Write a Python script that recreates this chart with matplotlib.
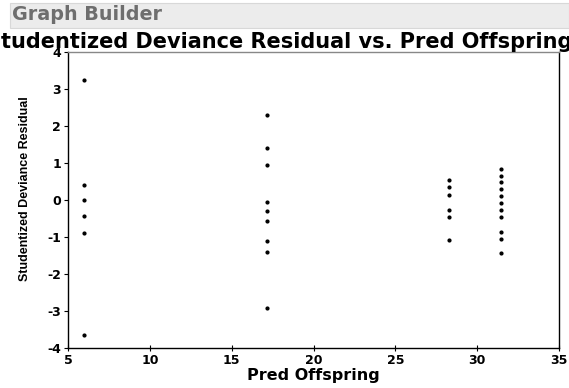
import matplotlib
matplotlib.use("Agg")
import matplotlib.pyplot as plt
from matplotlib.patches import Rectangle

plt.rcParams['font.family'] = ['Liberation Sans', 'DejaVu Sans']

# Data
x_groups = [6.0, 17.15, 28.3, 31.45]
res_g1 = [3.24, 0.41, 0.0, -0.43, -0.89, -3.65]
res_g2 = [2.30, 1.40, 0.94, -0.05, -0.30, -0.57, -1.11, -1.40, -2.93]
res_g3 = [0.54, 0.34, 0.14, -0.26, -0.46, -1.08]
res_g4 = [0.84, 0.65, 0.48, 0.29, 0.11, -0.07, -0.26, -0.47, -0.86, -1.06, -1.44]
groups = [res_g1, res_g2, res_g3, res_g4]

x_ticks = [5, 10, 15, 20, 25, 30, 35]
y_ticks = [-4, -3, -2, -1, 0, 1, 2, 3, 4]

W, H = 569, 388
fig = plt.figure(figsize=(W / 100, H / 100), dpi=100)

# header
fig.patches.append(Rectangle((10 / W, 1 - 28 / H), 1 - 10 / W, 25 / H,
                             transform=fig.transFigure, facecolor='#ececec',
                             edgecolor='#d8d8d8', linewidth=0.8))
fig.text(12 / W, 1 - 15 / H, "Graph Builder", fontsize=13.8, fontweight='bold',
         family=['DejaVu Sans'], color='#6e6e6e', va='center', ha='left')

fig.text(-14 / W, 1 - 42 / H, "Studentized Deviance Residual vs. Pred Offspring",
         fontsize=15, fontweight='bold', family=['DejaVu Sans'], color='black',
         va='center', ha='left')

ax = fig.add_axes([68 / W, 1 - 348 / H, (559 - 68) / W, (348 - 52) / H])
for xv, ys in zip(x_groups, groups):
    ax.plot([xv] * len(ys), ys, linestyle='none', marker='o', markersize=2.0,
            color='black')

ax.set_xlim(5, 35)
ax.set_ylim(-4, 4)
ax.set_xticks(x_ticks)
ax.set_yticks(y_ticks)
ax.set_xticklabels([str(v) for v in x_ticks], fontsize=9, fontweight='bold',
                   family=['DejaVu Sans'])
ax.set_yticklabels([str(v) for v in y_ticks], fontsize=9, fontweight='bold',
                   family=['DejaVu Sans'])
ax.tick_params(axis='x', direction='inout', length=4, width=0.8, pad=2)
ax.tick_params(axis='y', direction='out', length=3, width=0.8, pad=2)
for s in ax.spines.values():
    s.set_linewidth(1.0)
ax.spines['top'].set_color('#888888')

ax.set_xlabel("Pred Offspring", fontsize=11.5, fontweight='bold',
              family=['DejaVu Sans'], labelpad=1)
ax.set_ylabel("Studentized Deviance Residual", fontsize=9, fontweight='bold')
ax.yaxis.set_label_coords(-0.075, 0.54)

fig.savefig("out.png", dpi=100)
